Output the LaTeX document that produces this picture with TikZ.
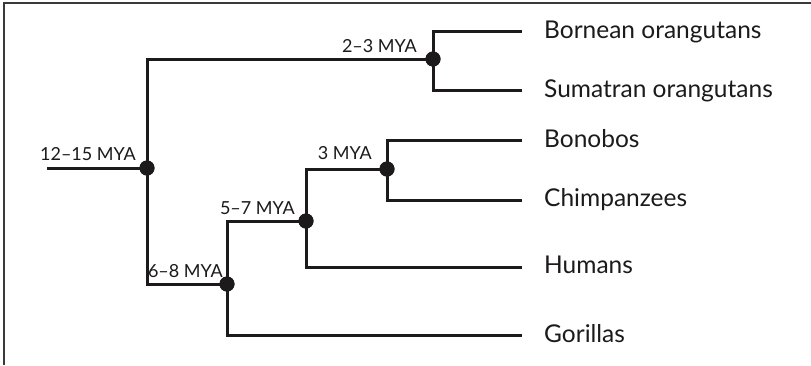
\documentclass[tikz,border=0pt]{standalone}
\usepackage{fontspec}
\setmainfont{Lato}
\definecolor{ink}{HTML}{1C1A1B}
\definecolor{framec}{HTML}{3A3A3A}
\begin{document}
\begin{tikzpicture}[x=1pt,y=-1pt,
  branch/.style={draw=ink,line width=3pt,line join=miter},
  dot/.style={circle,fill=ink,minimum size=15pt,inner sep=0pt},
  frameline/.style={draw=framec,line width=1.6pt},
  leaf/.style={anchor=base west,inner sep=0pt,text=ink,font=\fontsize{24.5}{28}\selectfont},
  age/.style={anchor=base east,inner sep=0pt,text=ink,font=\fontsize{18}{21}\selectfont}]
\useasboundingbox (0,0) rectangle (811,365);
\fill[white] (0,0) rectangle (811,365);
\coordinate (fa) at (4,365);
\coordinate (fb) at (4,3);
\coordinate (fc) at (811,3);
\draw[frameline] (fa) -- (fb) -- (fc);
% junctions
\coordinate (r0) at (47,168);
\node[dot] (n1) at (147,168) {};
\node[dot] (n2) at (433,59) {};
\node[dot] (n3) at (227,284) {};
\node[dot] (n4) at (306,221) {};
\node[dot] (n5) at (387,169) {};
% leaf ends
\coordinate (lbo) at (522,31);
\coordinate (lsu) at (522,90);
\coordinate (lbn) at (522,140);
\coordinate (lch) at (522,200);
\coordinate (lhu) at (522,267);
\coordinate (lgo) at (522,335);
% branches
\draw[branch] (r0) -- (n1.center);
\draw[branch] (n2.center) -| (n1.center);
\draw[branch] (n3.center) -| (n1.center);
\draw[branch] (n2.center) |- (lbo);
\draw[branch] (n2.center) |- (lsu);
\draw[branch] (n3.center) |- (n4.center);
\draw[branch] (n3.center) |- (lgo);
\draw[branch] (n4.center) |- (n5.center);
\draw[branch] (n4.center) |- (lhu);
\draw[branch] (n5.center) |- (lbn);
\draw[branch] (n5.center) |- (lch);
% redraw dots on top
\foreach \n in {n1,n2,n3,n4,n5} \fill[ink] (\n) circle (7.5pt);
% leaf labels
\node[leaf] (tbo) at (544,38) {Bornean orangutans};
\node[leaf] (tsu) at (544,97) {Sumatran orangutans};
\node[leaf] (tbn) at (544,147) {Bonobos};
\node[leaf] (tch) at (544,206) {Chimpanzees};
\node[leaf] (thu) at (544,273) {Humans};
\node[leaf] (tgo) at (544,342) {Gorillas};
% age labels
\node[age] (a1) at (136,160) {12–15 MYA};
\node[age] (a2) at (417,52) {2–3 MYA};
\node[age] (a3) at (372,159) {3 MYA};
\node[age] (a4) at (295,214) {5–7 MYA};
\node[age] (a5) at (223,277) {6–8 MYA};
\end{tikzpicture}
\end{document}
